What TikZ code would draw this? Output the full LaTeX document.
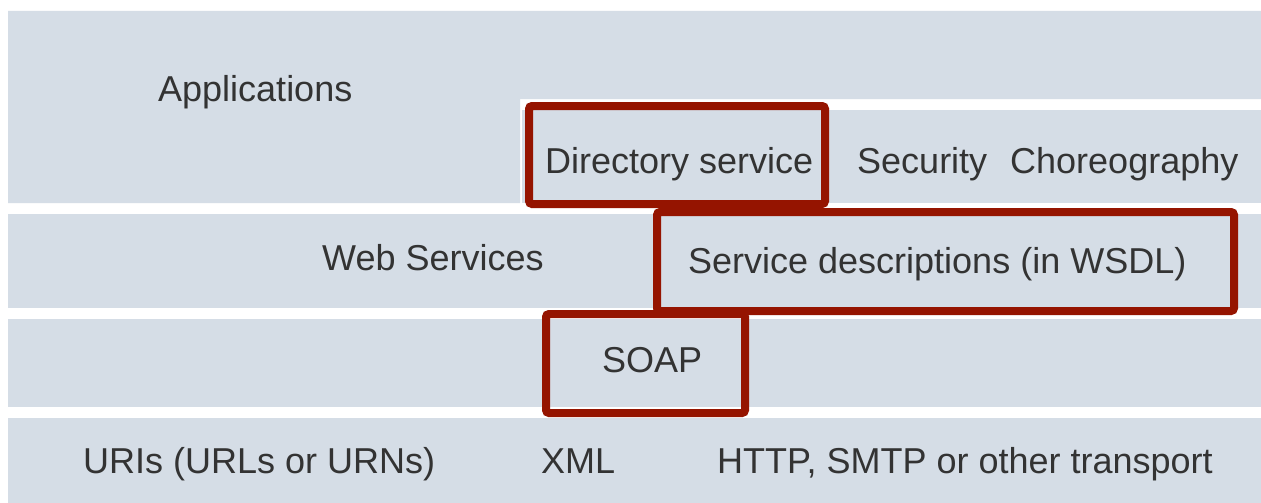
\documentclass[tikz,border=0pt]{standalone}
\usepackage{fontspec}
\setmainfont{Liberation Sans}
\definecolor{band}{HTML}{D5DDE6}
\definecolor{hl}{HTML}{951400}
\definecolor{txt}{HTML}{333333}
\begin{document}
\begin{tikzpicture}[x=1pt,y=-1pt,
  bandfill/.style={fill=band,draw=none},
  lbl/.style={anchor=base west,inner sep=0pt,text=txt,font=\fontsize{36}{43}\selectfont},
  hlbox/.style={draw=hl,line width=8pt,rounded corners=3pt,inner sep=0pt}]
\useasboundingbox (0,0) rectangle (1261,503);
\fill[white] (0,0) rectangle (1261,503);
% bands
\fill[bandfill] (8,11) -- (1261,11) -- (1261,99) -- (520,99) -- (520,203) -- (8,203) -- cycle;
\fill[bandfill] (522,110) rectangle (1261,203);
\fill[bandfill] (8,214) rectangle (1261,308);
\fill[bandfill] (8,319) rectangle (1261,407);
\fill[bandfill] (8,418) rectangle (1261,503);
% labels
\node[lbl] (app) at (158,102) {Applications};
\node[lbl] (dir) at (545,173) {Directory service};
\node[lbl] (sec) at (857,173) {Security};
\node[lbl] (cho) at (1010,173) {Choreography};
\node[lbl] (ws) at (322,270) {Web Services};
\node[lbl] (sd) at (688,273) {Service descriptions (in WSDL)};
\node[lbl] (soap) at (602,372) {SOAP};
\node[lbl] (uri) at (83,473) {URIs (URLs or URNs)};
\node[lbl] (xml) at (541,473) {XML};
\node[lbl] (http) at (717,473) {HTTP, SMTP or other transport};
% highlight boxes
\node[hlbox,minimum width=296pt,minimum height=98pt] (hdir) at (677,155) {};
\node[hlbox,minimum width=577pt,minimum height=99pt] (hsd) at (945.5,261.5) {};
\node[hlbox,minimum width=199pt,minimum height=99pt] (hsoap) at (645.5,363.5) {};
\end{tikzpicture}
\end{document}
